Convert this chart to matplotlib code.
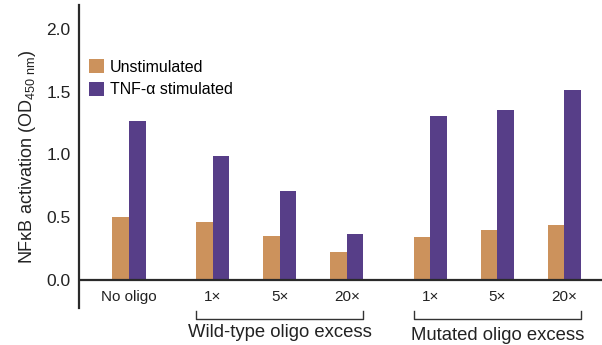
import matplotlib
matplotlib.use("Agg")
from matplotlib import pyplot as plt
import numpy as np

plt.rcParams['font.family'] = ['Liberation Sans', 'DejaVu Sans']
plt.rcParams['mathtext.fontset'] = 'custom'
plt.rcParams['mathtext.rm'] = 'Liberation Sans'

# data
conditions = ['No oligo', '1×', '5×', '20×', '1×', '5×', '20×']
positions = [0, 1.25, 2.25, 3.25, 4.5, 5.5, 6.5]
unstimulated = [0.50, 0.46, 0.35, 0.22, 0.34, 0.40, 0.44]
tnf_stimulated = [1.27, 0.99, 0.71, 0.37, 1.31, 1.35, 1.51]
groups = ['Wild-type oligo excess', 'Mutated oligo excess']
group_members = [[1, 2, 3], [4, 5, 6]]

tan = '#CC925C'
purple = '#573E88'
w = 0.25

fig = plt.figure(figsize=(6.02, 3.45), dpi=100)
ax = fig.add_axes([79/602, 1-308/345, 1-79/602, 303/345])

x = np.array(positions)
ax.bar(x - w/2, unstimulated, width=w, color=tan, label='Unstimulated')
ax.bar(x + w/2, tnf_stimulated, width=w, color=purple, label='TNF-α stimulated')

ax.set_xlim(-0.745, 7.06)
ax.set_ylim(-0.223, 2.19)
ax.axhline(0, color='#2a2a2a', linewidth=1.6, zorder=3)

for s in ['top', 'right', 'bottom']:
    ax.spines[s].set_visible(False)
ax.spines['left'].set_linewidth(1.6)
ax.spines['left'].set_color('#2a2a2a')

ax.set_yticks([0, 0.5, 1.0, 1.5, 2.0])
ax.set_yticklabels(['0.0', '0.5', '1.0', '1.5', '2.0'], fontsize=12.5, color='#222222')
ax.tick_params(axis='y', length=0, pad=6)
ax.set_xticks([])
ax.set_ylabel('NFκB activation (OD$_{450\\ \\mathrm{nm}}$)', fontsize=13, color='#222222', labelpad=6)

# condition labels
for xi, lab in zip(positions, conditions):
    ax.text(xi, -0.135, lab, ha='center', va='center', fontsize=11, color='#222222', clip_on=False)

# brackets + group labels
for gi, (g, mem) in enumerate(zip(groups, group_members)):
    x0 = positions[mem[0]] - w
    x1 = positions[mem[-1]] + w
    ax.plot([x0, x0, x1, x1], [-0.245, -0.31, -0.31, -0.245], color='#333333',
            linewidth=1, clip_on=False)
    ax.text((x0 + x1) / 2, -0.42 - 0.025 * gi, g, ha='center', va='center',
            fontsize=13.3, color='#222222', clip_on=False)

ax.legend(loc='upper left', bbox_to_anchor=(0.0, 0.852), frameon=False, fontsize=11.5,
          handlelength=0.95, handleheight=0.95, handletextpad=0.4, labelspacing=0.45,
          borderaxespad=0.2)

fig.savefig('out.png', dpi=100)
